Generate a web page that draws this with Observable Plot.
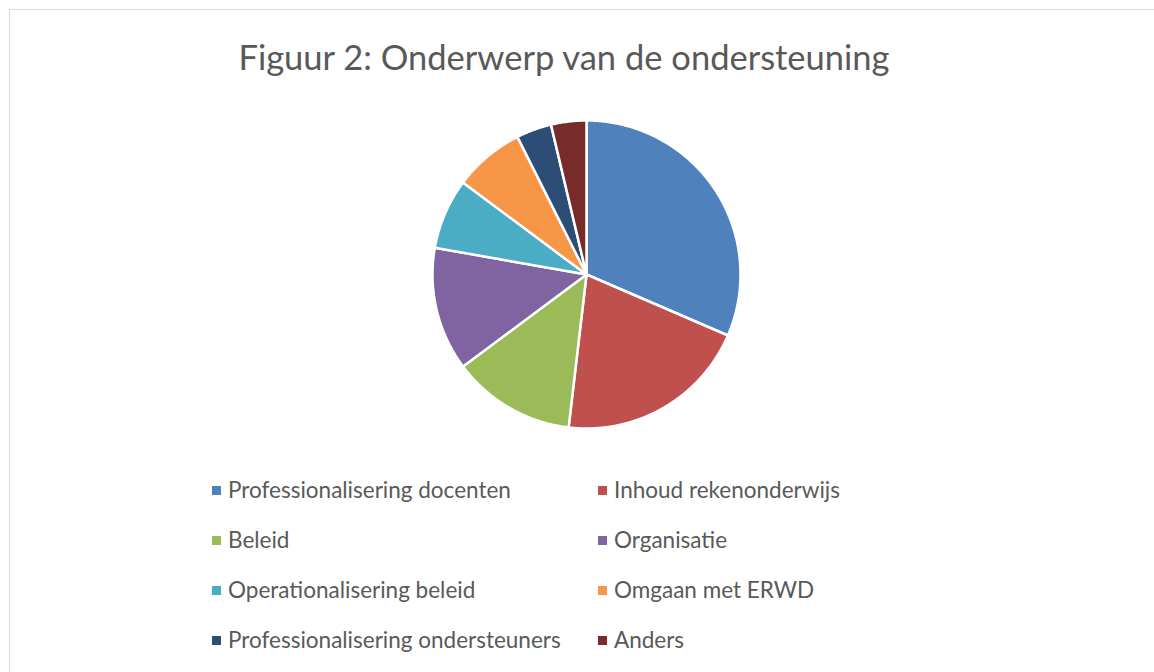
<!DOCTYPE html>
<html>
<head>
<meta charset="utf-8">
<script src="https://cdn.jsdelivr.net/npm/d3@7"></script>
<script src="https://cdn.jsdelivr.net/npm/@observablehq/plot@0.6"></script>
<style>
  html, body { margin: 0; padding: 0; background: #fff; width: 1154px; height: 672px; overflow: hidden; }
  #frame { position: absolute; left: 9px; top: 9px; width: 1160px; height: 680px; border: 1px solid #d9d9d9; box-sizing: border-box; }
  #title { position: absolute; left: 0; width: 1128px; top: 36px; text-align: center; font-family: Lato, "Noto Sans", sans-serif; font-size: 34.5px; color: #595959; white-space: nowrap; }
  #pie { position: absolute; left: 430px; top: 118px; }
  .item { position: absolute; font-family: Lato, "Noto Sans", sans-serif; font-size: 22.5px; color: #595959; white-space: nowrap; line-height: 1; }
  .sw { position: absolute; width: 9px; height: 9px; }
</style>
</head>
<body>
<div id="frame"></div>
<div id="title">Figuur 2: Onderwerp van de ondersteuning</div>
<div id="pie"></div>
<div id="legend"></div>
<script>
const categories = [
  "Professionalisering docenten",
  "Inhoud rekenonderwijs",
  "Beleid",
  "Organisatie",
  "Operationalisering beleid",
  "Omgaan met ERWD",
  "Professionalisering ondersteuners",
  "Anders"
];
const counts = [17, 11, 7, 7, 4, 4, 2, 2];
const colors = ["#4F81BD", "#C0504D", "#9BBB59", "#8064A2", "#4BACC6", "#F79646", "#2C4D75", "#772C2A"];

const arcs = d3.pie().sort(null).value(d => d)(counts);
const features = arcs.map((a, i) => {
  const ring = [[0, 0]];
  const n = Math.max(2, Math.ceil((a.endAngle - a.startAngle) / 0.01));
  for (let k = 0; k <= n; k++) {
    const t = a.startAngle + (a.endAngle - a.startAngle) * k / n;
    ring.push([Math.sin(t), Math.cos(t)]);
  }
  ring.push([0, 0]);
  return {type: "Feature", properties: {name: categories[i], value: counts[i]}, geometry: {type: "Polygon", coordinates: [ring]}};
});

const circle = {type: "Polygon", coordinates: [d3.range(0, 361, 2).map(d => [Math.sin(d * Math.PI / 180), Math.cos(d * Math.PI / 180)])]};

const chart = Plot.plot({
  width: 312,
  height: 312,
  margin: 0,
  projection: {type: "reflect-y", domain: circle, inset: 2},
  color: {domain: categories, range: colors},
  marks: [
    Plot.geo(features, {fill: d => d.properties.name, stroke: "white", strokeWidth: 2.5, strokeLinejoin: "round"})
  ]
});
document.getElementById("pie").appendChild(chart);

const legend = document.getElementById("legend");
const rowsY = [491, 541, 591, 641];
const colX = [228, 614];
categories.forEach((c, i) => {
  const col = i % 2, row = Math.floor(i / 2);
  const sw = document.createElement("div");
  sw.className = "sw";
  sw.style.background = colors[i];
  sw.style.left = (colX[col] - 16) + "px";
  sw.style.top = (rowsY[row] - 5) + "px";
  legend.appendChild(sw);
  const t = document.createElement("div");
  t.className = "item";
  t.textContent = c;
  t.style.left = colX[col] + "px";
  t.style.top = (rowsY[row] - 12) + "px";
  legend.appendChild(t);
});
</script>
</body>
</html>
